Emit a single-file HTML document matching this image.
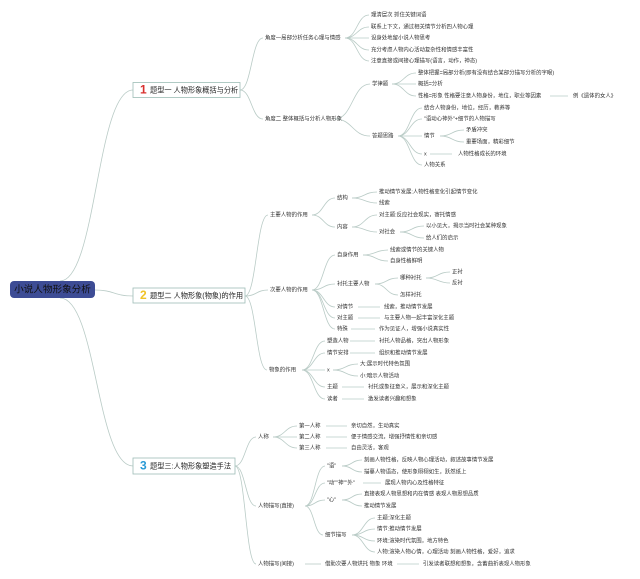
<!DOCTYPE html>
<html><head><meta charset="utf-8"><style>
html,body{margin:0;padding:0;background:#fff;width:640px;height:579px;overflow:hidden}
svg{display:block}
text{font-family:"Liberation Sans","Noto Sans CJK SC",sans-serif;font-size:5.4px;fill:#333;dominant-baseline:middle}
.c{fill:none;stroke:#b9cbc6;stroke-width:0.8}
.b{font-size:7.2px;fill:#222}
</style></head><body>
<svg id="s" width="640" height="579" viewBox="0 0 640 579">
<g id="lines"></g>
<rect x="10" y="281" width="85" height="17" rx="4" fill="#3d4c95"/>
<text x="52.5" y="290" text-anchor="middle" style="font-size:9.6px;fill:#111">小说人物形象分析</text>
<rect x="133" y="82.5" width="107" height="15" fill="#fff" stroke="#9dbdb6" stroke-width="0.8"/>
<text x="140" y="90.5" style="font-size:12px;font-weight:bold;fill:#d8302e">1</text>
<text x="150" y="90.5" class="b">题型一 人物形象概括与分析</text>
<rect x="133" y="288" width="112" height="15" fill="#fff" stroke="#9dbdb6" stroke-width="0.8"/>
<text x="140" y="296" style="font-size:12px;font-weight:bold;fill:#f0c226">2</text>
<text x="150" y="296" class="b">题型二 人物形象(物象)的作用</text>
<rect x="133" y="458" width="102" height="16" fill="#fff" stroke="#9dbdb6" stroke-width="0.8"/>
<text x="140" y="466.5" style="font-size:12px;font-weight:bold;fill:#2a9ad6">3</text>
<text x="150" y="466.5" class="b">题型三:人物形象塑造手法</text>

<text x="265" y="38">角度一局部分析任务心理与情感</text>
<text x="371" y="15">理清层次 抓住关键词语</text>
<text x="371" y="27">联系上下文，通过相关情节分析四人物心理</text>
<text x="371" y="38">设身处地留小说人物思考</text>
<text x="371" y="50">充分考虑人物内心活动复杂性和情感丰富性</text>
<text x="371" y="61">注意直接或间接心理描写(语言，动作，神态)</text>
<text x="265" y="119">角度二 整体概括与分析人物形象</text>
<text x="372" y="84">学律题</text>
<text x="418" y="73">整体把握=局部分析(即有没有结合某部分描写分析的字眼)</text>
<text x="418" y="84">概括=分析</text>
<text x="418" y="96">性格=形象 性格要注意人物身份，地位，职业等因素</text>
<text x="573" y="96">例《遗体的女人》</text>
<text x="372" y="136">答题思路</text>
<text x="424" y="108">结合人物身份，地位，经历，教养等</text>
<text x="424" y="119">"语动心神外"+细节的人物描写</text>
<text x="424" y="136">情节</text>
<text x="466" y="130">矛盾冲突</text>
<text x="466" y="142">重要场面，精彩细节</text>
<text x="424" y="154">x</text>
<text x="458" y="154">人物性格成长的环境</text>
<text x="424" y="165">人物关系</text>

<text x="270" y="215">主要人物的作用</text>
<text x="337" y="198">结构</text>
<text x="379" y="192">推动情节发展:人物性格变化引起情节变化</text>
<text x="379" y="203">线索</text>
<text x="337" y="227">内容</text>
<text x="379" y="215">对主题:反应社会现实，寄托情感</text>
<text x="379" y="232">对社会</text>
<text x="426" y="226">以小见大，揭示当时社会某种现象</text>
<text x="426" y="238">给人们的启示</text>
<text x="270" y="290">次要人物的作用</text>
<text x="337" y="255">自身作用</text>
<text x="390" y="250">线索或情节的关键人物</text>
<text x="390" y="261">自身性格鲜明</text>
<text x="337" y="284">衬托主要人物</text>
<text x="400" y="278">哪种衬托</text>
<text x="452" y="272">正衬</text>
<text x="452" y="283">反衬</text>
<text x="400" y="295">怎样衬托</text>
<text x="337" y="307">对情节</text>
<text x="384" y="307">线索，推动情节发展</text>
<text x="337" y="318">对主题</text>
<text x="384" y="318">与主要人物一起丰富深化主题</text>
<text x="337" y="329">特殊</text>
<text x="379" y="329">作为见证人，增强小说真实性</text>
<text x="269" y="370">物象的作用</text>
<text x="327" y="341">塑造人物</text>
<text x="379" y="341">衬托人物品格，突出人物形象</text>
<text x="327" y="353">情节安排</text>
<text x="379" y="353">组织和推动情节发展</text>
<text x="327" y="370">x</text>
<text x="360" y="364">大:展示时代特色氛围</text>
<text x="360" y="376">小:暗示人物活动</text>
<text x="327" y="387">主题</text>
<text x="368" y="387">衬托或象征意义，展示和深化主题</text>
<text x="327" y="399">读者</text>
<text x="368" y="399">激发读者兴趣和想象</text>

<text x="258" y="437">人称</text>
<text x="299" y="426">第一人称</text>
<text x="351" y="426">亲切自然，生动真实</text>
<text x="299" y="437">第二人称</text>
<text x="351" y="437">便于情感交流，增强抒情性和亲切感</text>
<text x="299" y="448">第三人称</text>
<text x="351" y="448">自由灵活，客观</text>
<text x="258" y="506">人物描写(直接)</text>
<text x="327" y="466">"语"</text>
<text x="364" y="460">刻画人物性格，反映人物心理活动，叙述故事情节发展</text>
<text x="364" y="472">描摹人物语态，使形象栩栩如生，跃然纸上</text>
<text x="327" y="483">"动""神""外"</text>
<text x="385" y="483">展现人物内心及性格特征</text>
<text x="327" y="500">"心"</text>
<text x="364" y="494">直接表现人物思想和内在情感 表现人物思想品质</text>
<text x="364" y="506">推动情节发展</text>
<text x="325" y="535">细节描写</text>
<text x="377" y="518">主题:深化主题</text>
<text x="377" y="529">情节:推动情节发展</text>
<text x="377" y="541">环境:渲染时代氛围，地方特色</text>
<text x="377" y="552">人物:渲染人物心情，心理活动 刻画人物性格，爱好，追求</text>
<text x="258" y="564">人物描写(间接)</text>
<text x="325" y="564">借助次要人物烘托 物象 环境</text>
<text x="423" y="564">引发读者联想和想象，含蓄曲折表现人物形象</text>
</svg>
<script>
var E=[
[60,281,133,90],[95,290,133,296],[60,298,133,466],
[240,90,263,38],[240,90,263,119],
[345,38,369,15],[345,38,369,27],[345,38,369,38],[345,38,369,50],[345,38,369,61],
[335,119,370,84],[335,119,370,136],
[392,84,416,73],[392,84,416,84],[392,84,416,96],[550,96,568,96],
[398,136,422,108],[398,136,422,119],[398,136,422,136],[398,136,422,154],[398,136,422,165],
[440,136,464,130],[440,136,464,142],[430,154,452,154],
[245,296,268,215],[245,296,268,290],[245,296,267,370],
[312,215,335,198],[312,215,335,227],
[352,198,377,192],[352,198,377,203],[352,227,377,215],[352,227,377,232],
[400,232,424,226],[400,232,424,238],
[312,290,335,255],[312,290,335,284],[312,290,335,307],[312,290,335,318],[312,290,335,329],
[363,255,388,250],[363,255,388,261],[375,284,398,278],[375,284,398,295],
[426,278,450,272],[426,278,450,283],
[358,307,380,307],[358,318,380,318],[351,329,375,329],
[302,370,325,341],[302,370,325,353],[302,370,325,370],[302,370,325,387],[302,370,325,399],
[350,341,375,341],[350,353,375,353],[333,370,358,364],[333,370,358,376],
[342,387,364,387],[342,399,364,399],
[235,466,256,437],[235,466,256,506],[235,466,256,564],
[273,437,297,426],[273,437,297,437],[273,437,297,448],
[326,426,347,426],[326,437,347,437],[326,448,347,448],
[305,506,325,466],[305,506,325,483],[305,506,325,500],[305,506,323,535],
[342,466,362,460],[342,466,362,472],[363,483,381,483],[342,500,362,494],[342,500,362,506],
[352,535,375,518],[352,535,375,529],[352,535,375,541],[352,535,375,552],
[305,564,321,564],[397,564,419,564]
];
var g=document.getElementById('lines'),h='';
E.forEach(function(e){var m=(e[0]+e[2])/2;h+='<path class="c" d="M'+e[0]+' '+e[1]+' C'+m+' '+e[1]+' '+m+' '+e[3]+' '+e[2]+' '+e[3]+'"/>';});
g.innerHTML=h;
</script>
</body></html>
